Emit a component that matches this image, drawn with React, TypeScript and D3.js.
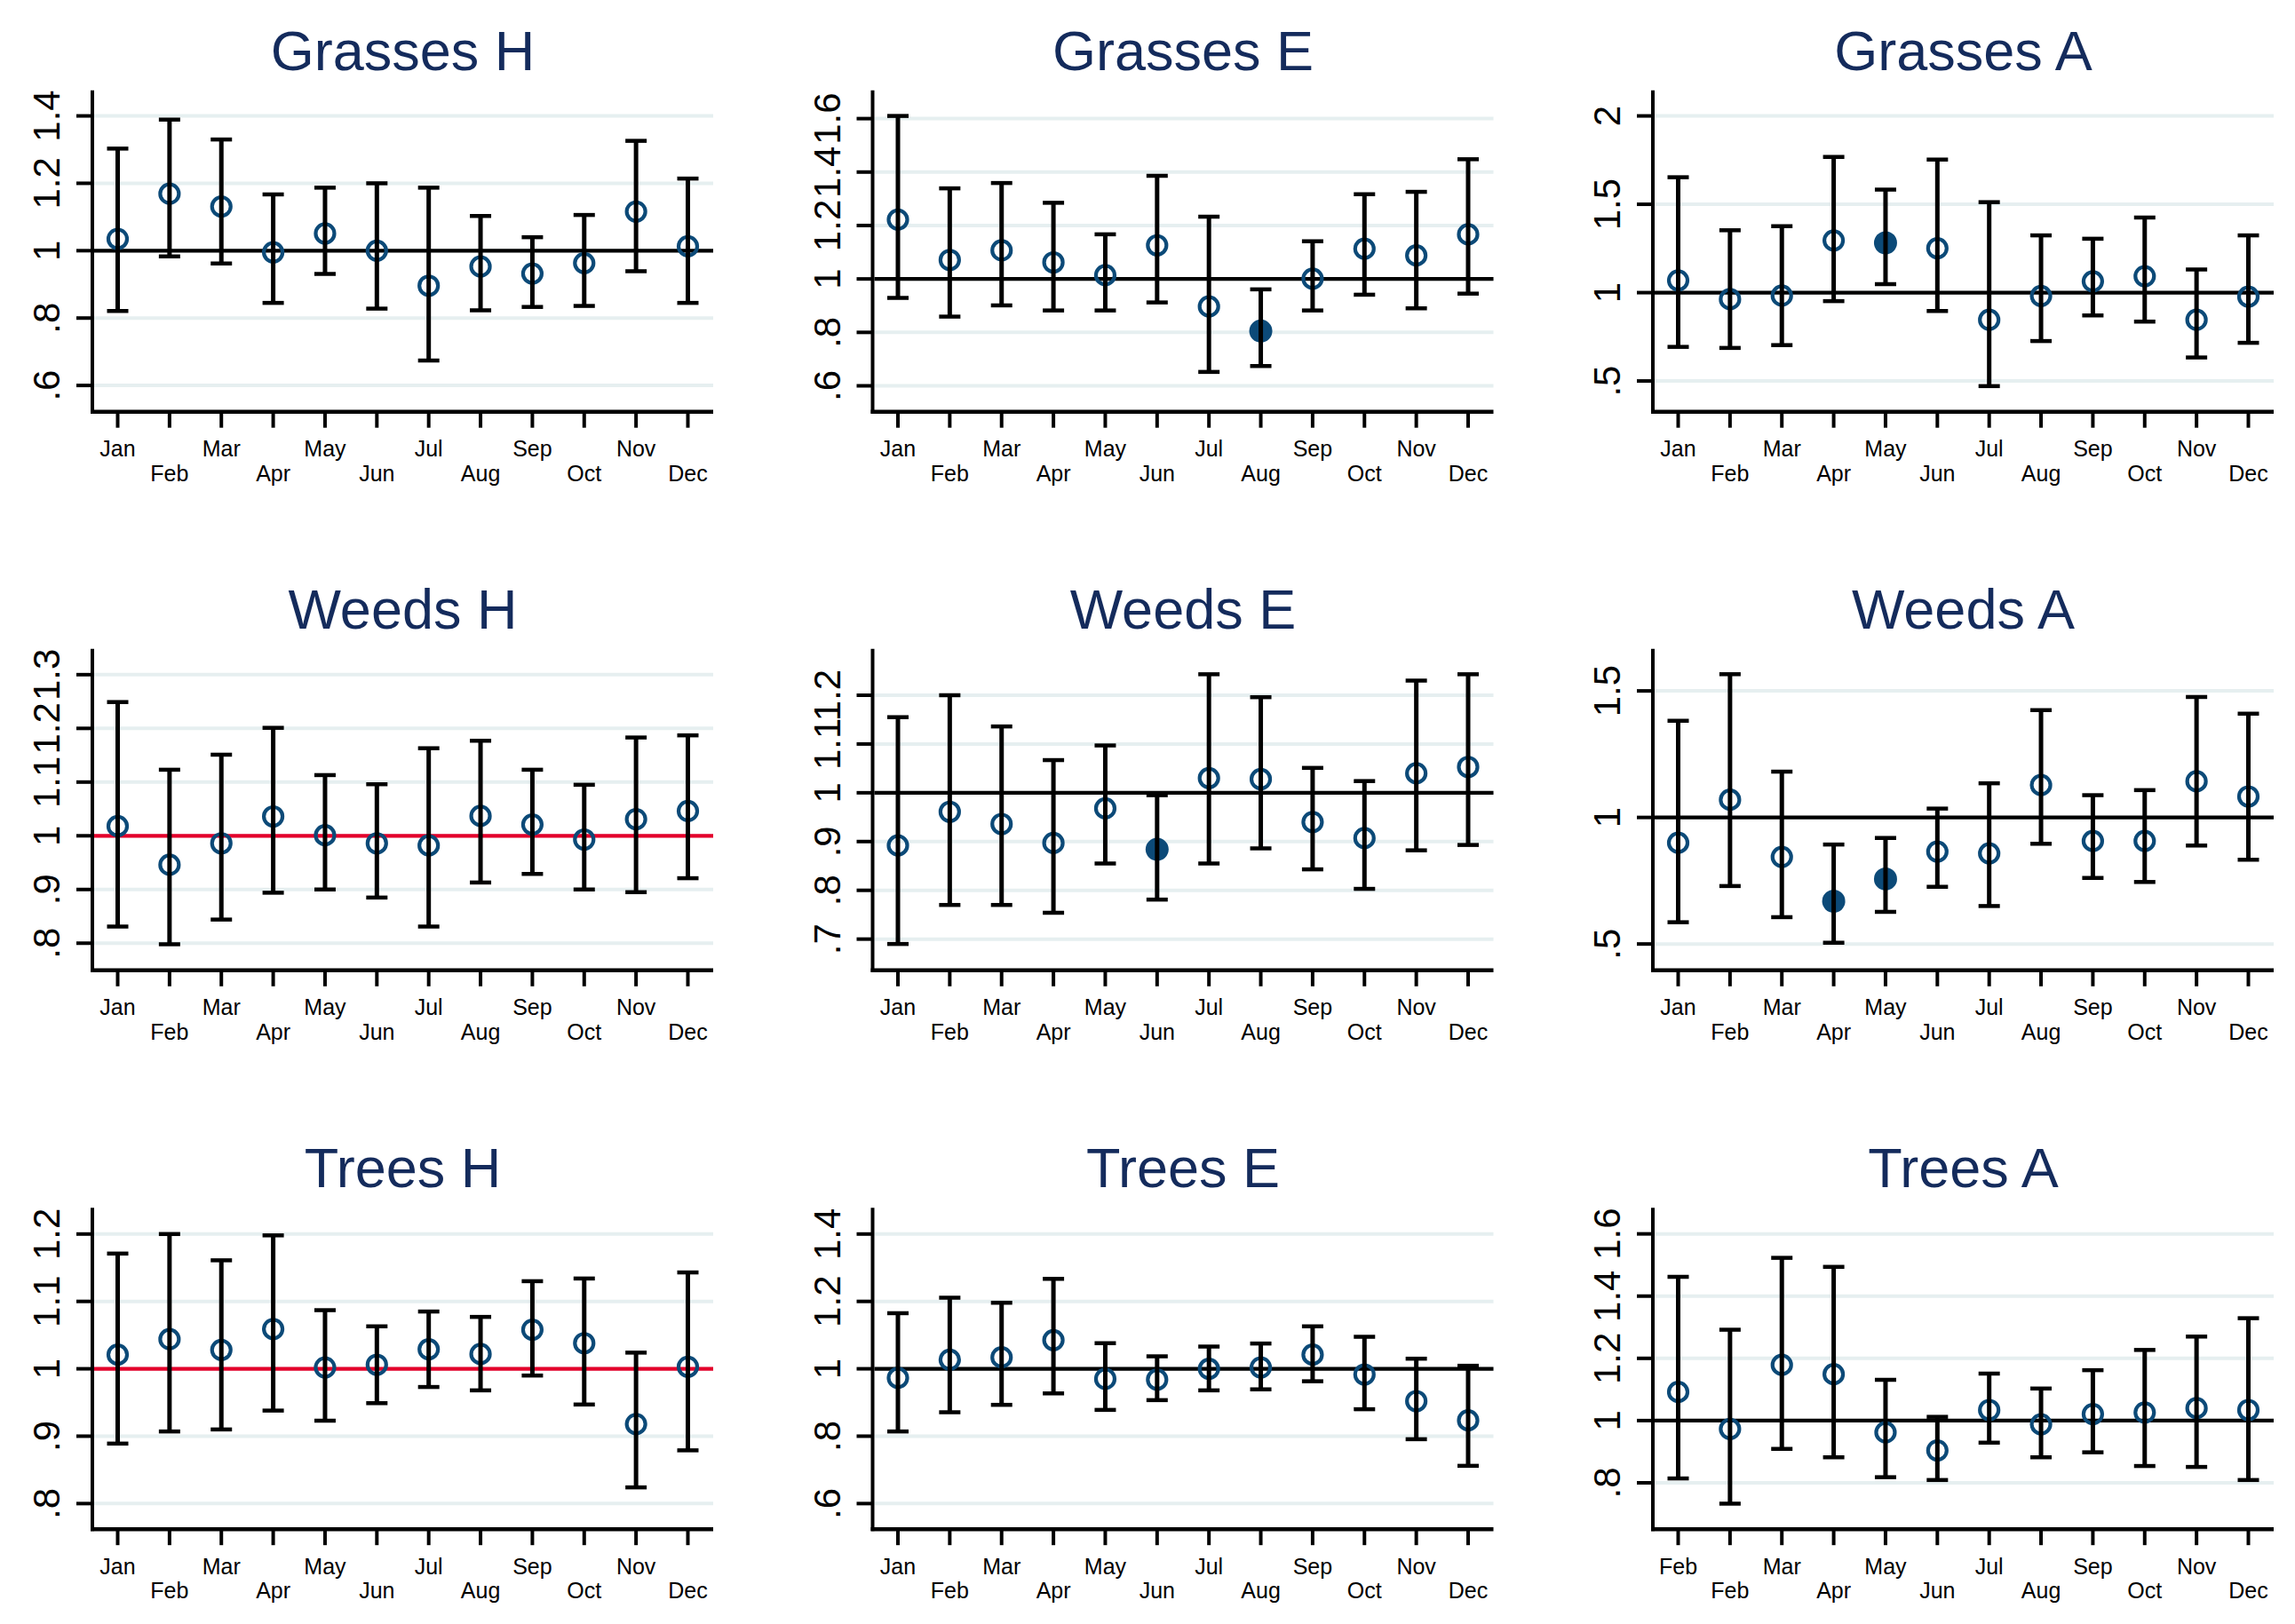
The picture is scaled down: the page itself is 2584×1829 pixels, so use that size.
import React from "react";
import * as d3 from "d3";

const months = ["Jan", "Feb", "Mar", "Apr", "May", "Jun", "Jul", "Aug", "Sep", "Oct", "Nov", "Dec"];
const monthsTreesA = ["Feb", "Feb", "Mar", "Apr", "May", "Jun", "Jul", "Aug", "Sep", "Oct", "Nov", "Dec"];

// Grasses
const grassesHEst = [1.035, 1.169, 1.131, 0.995, 1.051, 1.0, 0.896, 0.953, 0.932, 0.963, 1.116, 1.013];
const grassesHLo = [0.821, 0.983, 0.962, 0.845, 0.931, 0.828, 0.674, 0.823, 0.833, 0.836, 0.939, 0.845];
const grassesHHi = [1.303, 1.389, 1.33, 1.167, 1.187, 1.2, 1.187, 1.103, 1.04, 1.106, 1.326, 1.214];
const grassesHTicks = [0.6, 0.8, 1, 1.2, 1.4];
const grassesHRange = [0.522, 1.476];

const grassesEEst = [1.222, 1.071, 1.107, 1.062, 1.014, 1.126, 0.897, 0.805, 1.001, 1.113, 1.088, 1.167];
const grassesELo = [0.929, 0.859, 0.901, 0.882, 0.882, 0.912, 0.652, 0.674, 0.882, 0.941, 0.89, 0.945];
const grassesEHi = [1.61, 1.339, 1.359, 1.285, 1.167, 1.386, 1.233, 0.961, 1.141, 1.317, 1.326, 1.448];
const grassesESig = [false, false, false, false, false, false, false, true, false, false, false, false];
const grassesETicks = [0.6, 0.8, 1, 1.2, 1.4, 1.6];
const grassesERange = [0.503, 1.706];

const grassesAEst = [1.069, 0.963, 0.983, 1.295, 1.282, 1.251, 0.846, 0.981, 1.064, 1.093, 0.846, 0.977];
const grassesALo = [0.693, 0.687, 0.703, 0.952, 1.048, 0.896, 0.471, 0.726, 0.871, 0.836, 0.633, 0.716];
const grassesAHi = [1.653, 1.353, 1.376, 1.768, 1.583, 1.753, 1.512, 1.324, 1.305, 1.425, 1.131, 1.324];
const grassesASig = [false, false, false, false, true, false, false, false, false, false, false, false];
const grassesATicks = [0.5, 1, 1.5, 2];
const grassesARange = [0.326, 2.145];

// Weeds
const weedsHEst = [1.018, 0.946, 0.986, 1.036, 1.001, 0.986, 0.982, 1.037, 1.021, 0.993, 1.031, 1.046];
const weedsHLo = [0.831, 0.798, 0.844, 0.894, 0.9, 0.885, 0.831, 0.913, 0.929, 0.9, 0.895, 0.921];
const weedsHHi = [1.249, 1.123, 1.151, 1.201, 1.113, 1.096, 1.163, 1.177, 1.123, 1.095, 1.183, 1.187];
const weedsHTicks = [0.8, 0.9, 1, 1.1, 1.2, 1.3];
const weedsHRange = [0.7495, 1.348];

const weedsEEst = [0.892, 0.961, 0.936, 0.897, 0.968, 0.884, 1.03, 1.028, 0.94, 0.907, 1.04, 1.053];
const weedsELo = [0.69, 0.77, 0.77, 0.754, 0.855, 0.781, 0.855, 0.886, 0.843, 0.803, 0.882, 0.893];
const weedsEHi = [1.155, 1.2, 1.136, 1.067, 1.097, 0.995, 1.243, 1.196, 1.051, 1.024, 1.23, 1.243];
const weedsESig = [false, false, false, false, false, true, false, false, false, false, false, false];
const weedsETicks = [0.7, 0.8, 0.9, 1, 1.1, 1.2];
const weedsERange = [0.636, 1.295];

const weedsAEst = [0.9, 1.07, 0.844, 0.669, 0.757, 0.865, 0.858, 1.128, 0.907, 0.907, 1.143, 1.083];
const weedsALo = [0.586, 0.729, 0.606, 0.505, 0.627, 0.726, 0.65, 0.896, 0.761, 0.745, 0.889, 0.833];
const weedsAHi = [1.382, 1.566, 1.181, 0.893, 0.919, 1.035, 1.135, 1.424, 1.088, 1.108, 1.476, 1.41];
const weedsASig = [false, false, false, true, true, false, false, false, false, false, false, false];
const weedsATicks = [0.5, 1, 1.5];
const weedsARange = [0.396, 1.666];

// Trees
const treesHEst = [1.021, 1.044, 1.028, 1.059, 1.002, 1.006, 1.029, 1.022, 1.058, 1.038, 0.918, 1.003];
const treesHLo = [0.889, 0.907, 0.91, 0.938, 0.923, 0.949, 0.973, 0.968, 0.99, 0.947, 0.824, 0.879];
const treesHHi = [1.171, 1.2, 1.161, 1.198, 1.087, 1.063, 1.085, 1.077, 1.13, 1.134, 1.024, 1.143];
const treesHTicks = [0.8, 0.9, 1, 1.1, 1.2];
const treesHRange = [0.762, 1.239];

const treesEEst = [0.973, 1.027, 1.034, 1.085, 0.97, 0.968, 1.0, 1.004, 1.042, 0.983, 0.904, 0.847];
const treesELo = [0.814, 0.871, 0.893, 0.927, 0.878, 0.907, 0.936, 0.939, 0.963, 0.88, 0.791, 0.712];
const treesEHi = [1.165, 1.211, 1.196, 1.267, 1.076, 1.037, 1.066, 1.075, 1.126, 1.095, 1.03, 1.009];
const treesETicks = [0.6, 0.8, 1, 1.2, 1.4];
const treesERange = [0.524, 1.478];

const treesAEst = [1.092, 0.973, 1.179, 1.149, 0.962, 0.904, 1.034, 0.988, 1.021, 1.026, 1.04, 1.034];
const treesALo = [0.814, 0.733, 0.909, 0.882, 0.818, 0.809, 0.929, 0.882, 0.898, 0.854, 0.851, 0.809];
const treesAHi = [1.462, 1.292, 1.523, 1.494, 1.131, 1.012, 1.151, 1.103, 1.162, 1.227, 1.27, 1.329];
const treesATicks = [0.8, 1, 1.2, 1.4, 1.6];
const treesARange = [0.651, 1.684];

const noSig = months.map(() => false);

const fmt = (v: number) => {
  const s = String(+v.toFixed(2));
  return s.startsWith("0.") ? s.slice(1) : s;
};

type Panel = {
  title: string;
  labels: string[];
  est: number[];
  lo: number[];
  hi: number[];
  sig: boolean[];
  ticks: number[];
  range: number[];
  refRed: boolean;
};

const panels: Panel[] = [
  { title: "Grasses H", labels: months, est: grassesHEst, lo: grassesHLo, hi: grassesHHi, sig: noSig, ticks: grassesHTicks, range: grassesHRange, refRed: false },
  { title: "Grasses E", labels: months, est: grassesEEst, lo: grassesELo, hi: grassesEHi, sig: grassesESig, ticks: grassesETicks, range: grassesERange, refRed: false },
  { title: "Grasses A", labels: months, est: grassesAEst, lo: grassesALo, hi: grassesAHi, sig: grassesASig, ticks: grassesATicks, range: grassesARange, refRed: false },
  { title: "Weeds H", labels: months, est: weedsHEst, lo: weedsHLo, hi: weedsHHi, sig: noSig, ticks: weedsHTicks, range: weedsHRange, refRed: true },
  { title: "Weeds E", labels: months, est: weedsEEst, lo: weedsELo, hi: weedsEHi, sig: weedsESig, ticks: weedsETicks, range: weedsERange, refRed: false },
  { title: "Weeds A", labels: months, est: weedsAEst, lo: weedsALo, hi: weedsAHi, sig: weedsASig, ticks: weedsATicks, range: weedsARange, refRed: false },
  { title: "Trees H", labels: months, est: treesHEst, lo: treesHLo, hi: treesHHi, sig: noSig, ticks: treesHTicks, range: treesHRange, refRed: true },
  { title: "Trees E", labels: months, est: treesEEst, lo: treesELo, hi: treesEHi, sig: noSig, ticks: treesETicks, range: treesERange, refRed: false },
  { title: "Trees A", labels: monthsTreesA, est: treesAEst, lo: treesALo, hi: treesAHi, sig: noSig, ticks: treesATicks, range: treesARange, refRed: false },
];

const W = 2584;
const H = 1829;
const colX = [104, 982.5, 1861];
const rowTop = [101.7, 730.8, 1360.2];
const plotW = 699;
const plotH = 362;
const FONT = "'Liberation Sans', Arial, Helvetica, sans-serif";
const NAVY = "#0c4a78";
const TITLE = "#142b5c";
const GRID = "#e6eff0";

function PanelView({ p, x0, y0 }: { p: Panel; x0: number; y0: number }) {
  const x = d3.scalePoint<string>().domain(months).range([28.5, 670.5]);
  const y = d3.scaleLinear().domain(p.range).range([plotH, 0]);
  const refColor = p.refRed ? "#e4002b" : "#000";
  return (
    <g transform={`translate(${x0},${y0})`}>
      <text x={plotW / 2} y={-23} textAnchor="middle" fontSize={63} fill={TITLE} fontFamily={FONT}>
        {p.title}
      </text>
      {p.ticks.map((t) => (
        <line key={"g" + t} x1={2} x2={plotW} y1={y(t)} y2={y(t)} stroke={GRID} strokeWidth={4} />
      ))}
      <line x1={2} x2={plotW} y1={y(1)} y2={y(1)} stroke={refColor} strokeWidth={4.3} />
      {months.map((m, i) =>
        p.sig[i] ? (
          <circle key={"m" + i} cx={x(m)} cy={y(p.est[i])} r={13} fill={NAVY} />
        ) : (
          <circle key={"m" + i} cx={x(m)} cy={y(p.est[i])} r={10.5} fill="none" stroke={NAVY} strokeWidth={4.2} />
        )
      )}
      {months.map((m, i) => (
        <g key={"e" + i}>
          <line x1={x(m)} x2={x(m)} y1={y(p.lo[i])} y2={y(p.hi[i])} stroke="#000" strokeWidth={5} />
          <line x1={x(m)! - 12} x2={x(m)! + 12} y1={y(p.lo[i])} y2={y(p.lo[i])} stroke="#000" strokeWidth={4.5} />
          <line x1={x(m)! - 12} x2={x(m)! + 12} y1={y(p.hi[i])} y2={y(p.hi[i])} stroke="#000" strokeWidth={4.5} />
        </g>
      ))}
      {/* axes */}
      <line x1={0} x2={0} y1={0} y2={plotH + 2} stroke="#000" strokeWidth={4} />
      <line x1={-2} x2={plotW} y1={plotH} y2={plotH} stroke="#000" strokeWidth={4.5} />
      {p.ticks.map((t) => (
        <g key={"t" + t}>
          <line x1={-18} x2={0} y1={y(t)} y2={y(t)} stroke="#000" strokeWidth={4} />
          <text
            transform={`translate(${-37},${y(t)}) rotate(-90)`}
            textAnchor="middle"
            fontSize={42}
            fontFamily={FONT}
            fill="#000"
          >
            {fmt(t)}
          </text>
        </g>
      ))}
      {months.map((m, i) => (
        <g key={"x" + i}>
          <line x1={x(m)} x2={x(m)} y1={plotH} y2={plotH + 18} stroke="#000" strokeWidth={4} />
          <text
            x={x(m)}
            y={plotH + (i % 2 === 0 ? 50.6 : 78.2)}
            textAnchor="middle"
            fontSize={25}
            fontFamily={FONT}
            fill="#000"
          >
            {p.labels[i]}
          </text>
        </g>
      ))}
    </g>
  );
}

export default function App() {
  return (
    <svg
      width={W}
      height={H}
      viewBox={`0 0 ${W} ${H}`}
      style={{ position: "absolute", left: 0, top: 0, background: "#fff" }}
    >
      <rect x={0} y={0} width={W} height={H} fill="#fff" />
      {panels.map((p, i) => (
        <PanelView key={p.title} p={p} x0={colX[i % 3]} y0={rowTop[Math.floor(i / 3)]} />
      ))}
    </svg>
  );
}
